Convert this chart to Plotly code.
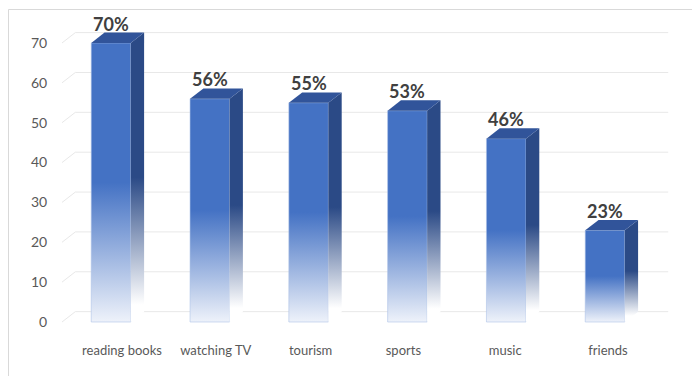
import plotly.graph_objects as go

# survey results: share of respondents per leisure activity (%)
categories = ["reading books", "watching TV", "tourism", "sports", "music", "friends"]
shares = [70, 56, 55, 53, 46, 23]
y_ticks = [0, 10, 20, 30, 40, 50, 60, 70]

# colours
FRONT = "#4472C4"
FRONT_FADE = "#EEF2FA"
FRONT_EDGE = "rgba(170,192,230,0.55)"
SIDE = "#2B4A86"
SIDE_FADE = "#FFFFFF"
TOP = "#31549A"
GRID = "#E8E8E8"
TICK_TEXT = "#595959"
VALUE_TEXT = "#404040"
BORDER = "#D9D9D9"
FONT = "Lato"

# geometry of the pseudo 3-D columns
HALF_W = 0.2      # half width of the front face (category units)
DEPTH_X = 0.135   # receding offset to the right (category units)
DEPTH_Y = 2.6     # receding offset upwards (value units)
GRID_X0, GRID_X1 = -0.496, 5.64

W, H = 692, 376
ML, MB = 55, 46
plot_w, plot_h = W - ML, H - MB
X_RANGE = [-0.5668, 5.8806]
PX_PER_CAT = plot_w / (X_RANGE[1] - X_RANGE[0])

# small horizontal nudges (px) of the category captions, as laid out on the floor edge
LABEL_NUDGE_PX = [11, 6, 2, -4, -1, 3]

fig = go.Figure()

# back-wall gridlines, each starting with the short floor diagonal on the left
for t in y_ticks:
    fig.add_trace(go.Scatter(
        x=[GRID_X0, GRID_X0 + DEPTH_X, GRID_X1],
        y=[t, t + DEPTH_Y, t + DEPTH_Y],
        mode="lines", line=dict(color=GRID, width=1),
        hoverinfo="skip", showlegend=False))

no_line = dict(width=0, color="rgba(0,0,0,0)")

for i, (cat, v) in enumerate(zip(categories, shares)):
    xl, xr = i - HALF_W, i + HALF_W
    # front face, fading out towards the floor
    fig.add_trace(go.Scatter(
        x=[xl, xr, xr, xl, xl], y=[0, 0, v, v, 0],
        fill="toself", mode="lines", line=dict(width=1, color=FRONT_EDGE),
        fillcolor=FRONT,
        fillgradient=dict(type="vertical",
                          colorscale=[[0, FRONT_FADE], [0.5, FRONT], [1, FRONT]],
                          start=0, stop=v),
        name=cat, hovertemplate=f"{cat}: {v}%<extra></extra>", showlegend=False))
    # right side face
    fig.add_trace(go.Scatter(
        x=[xr, xr + DEPTH_X, xr + DEPTH_X, xr, xr],
        y=[0, DEPTH_Y, v + DEPTH_Y, v, 0],
        fill="toself", mode="lines", line=no_line,
        fillcolor=SIDE,
        fillgradient=dict(type="vertical",
                          colorscale=[[0, SIDE_FADE], [0.06, SIDE_FADE], [0.5, SIDE], [1, SIDE]],
                          start=0, stop=v + DEPTH_Y),
        hoverinfo="skip", showlegend=False))
    # top face
    fig.add_trace(go.Scatter(
        x=[xl, xr, xr + DEPTH_X, xl + DEPTH_X, xl],
        y=[v, v, v + DEPTH_Y, v + DEPTH_Y, v],
        fill="toself", mode="lines", line=no_line, fillcolor=TOP,
        hoverinfo="skip", showlegend=False))
    # value label above the column
    fig.add_annotation(
        x=i, y=v + DEPTH_Y, text=f"{v}%", showarrow=False,
        xanchor="center", yanchor="bottom", yshift=-4,
        font=dict(family=FONT, size=18, color=VALUE_TEXT, weight="bold"))

# chart-area frame
fig.add_shape(type="rect", xref="paper", yref="paper",
              x0=(8.5 - ML) / plot_w, x1=1.2,
              y0=-0.5, y1=1 - 9.5 / plot_h,
              line=dict(color=BORDER, width=1), layer="below")

label_pos = [i + LABEL_NUDGE_PX[i] / PX_PER_CAT for i in range(len(categories))]

fig.update_layout(
    width=W, height=H,
    margin=dict(l=ML, r=0, t=0, b=MB),
    paper_bgcolor="white", plot_bgcolor="white",
    font=dict(family=FONT, color=TICK_TEXT),
    xaxis=dict(range=X_RANGE, tickvals=label_pos,
               ticktext=categories, showgrid=False, zeroline=False, showline=False,
               ticks="outside", ticklen=8, tickcolor="rgba(0,0,0,0)",
               tickfont=dict(family=FONT, size=13, color=TICK_TEXT), fixedrange=True),
    yaxis=dict(range=[-2.007, 80.78], tickvals=y_ticks, showgrid=False,
               zeroline=False, showline=False,
               ticks="outside", ticklen=4, tickcolor="rgba(0,0,0,0)",
               tickfont=dict(family=FONT, size=14, color=TICK_TEXT), fixedrange=True),
)

fig.write_html("out.html", config={"displayModeBar": False})
